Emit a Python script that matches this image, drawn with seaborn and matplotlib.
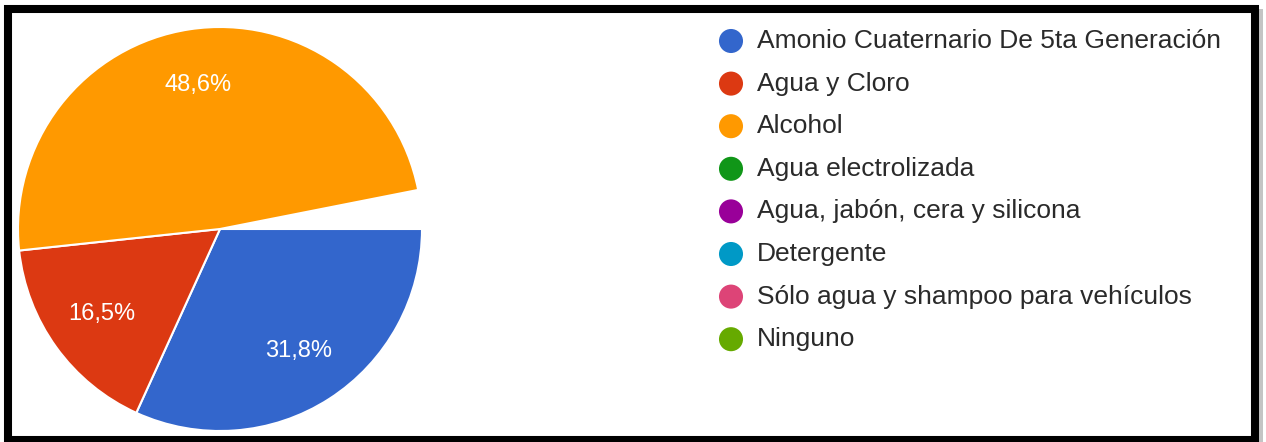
import numpy as np
import matplotlib
matplotlib.use("Agg")
import matplotlib.pyplot as plt
from matplotlib.patches import Rectangle
import seaborn as sns

# Survey answers and their shares (percent)
categories = [
    "Amonio Cuaternario De 5ta Generación",
    "Agua y Cloro",
    "Alcohol",
    "Agua electrolizada",
    "Agua, jabón, cera y silicona",
    "Detergente",
    "Sólo agua y shampoo para vehículos",
    "Ninguno",
]
shares = [31.8, 16.5, 48.6]          # labelled wedges
colors = ["#3366CC", "#DC3912", "#FF9900", "#109618",
          "#990099", "#0099C6", "#DD4477", "#66AA00"]

sns.set_theme(style="white")
plt.rcParams["font.family"] = ["Liberation Sans", "DejaVu Sans"]

W, H = 1266, 442
fig = plt.figure(figsize=(W / 100, H / 100), dpi=100)
fig.patch.set_facecolor("white")

# Pie: centre (220, 229) px, radius 202 px
cx, cy, r = 220, 229, 202
ax = fig.add_axes([(cx - r) / W, (H - cy - r) / H, 2 * r / W, 2 * r / H])
fracs = np.array(shares) / 100.0
wedges, _, autotexts = ax.pie(
    fracs,
    colors=colors[:len(shares)],
    normalize=False,
    startangle=0,
    counterclock=False,
    radius=1.0,
    autopct=lambda p: f"{p:.1f}".replace(".", ",") + "%",
    pctdistance=0.72,
    wedgeprops=dict(edgecolor="white", linewidth=1.5),
    textprops=dict(color="white", fontsize=17),
)
ax.set_xlim(-1, 1)
ax.set_ylim(-1, 1)
ax.set_aspect("equal")
ax.axis("off")

# Overlay in pixel coordinates for legend and frame
lax = fig.add_axes([0, 0, 1, 1], zorder=5)
lax.set_xlim(0, W)
lax.set_ylim(H, 0)
lax.axis("off")
lax.patch.set_alpha(0)

y0, step = 41, 42.6
for i, (name, col) in enumerate(zip(categories, colors)):
    y = y0 + i * step
    lax.scatter([731], [y], s=300, color=col, edgecolors="none")
    lax.text(757, y, name, fontsize=19, color="#2a2a2a",
             va="center", ha="left")

# Black frame with a soft grey shadow on the right
lax.add_patch(Rectangle((1258, 9), 5, 433, facecolor="#c4c4c4",
                        edgecolor="none"))
lax.add_patch(Rectangle((8, 9), 1246.5, 431, fill=False,
                        edgecolor="black", linewidth=5.8))

fig.savefig("out.png", dpi=100)
